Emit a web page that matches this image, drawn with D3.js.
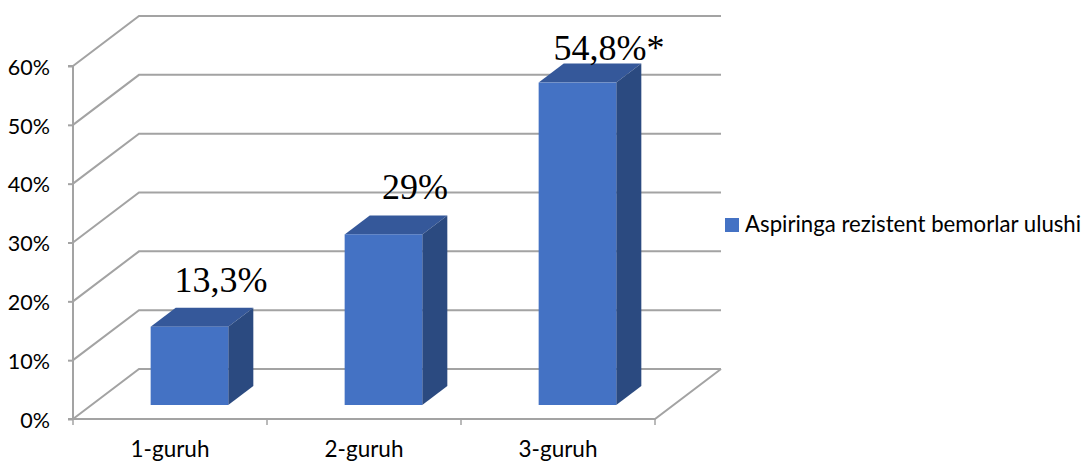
<!DOCTYPE html>
<html>
<head>
<meta charset="utf-8">
<script src="https://cdn.jsdelivr.net/npm/d3@7"></script>
<style>
  html, body { margin: 0; padding: 0; background: #ffffff; }
  svg { display: block; }
</style>
</head>
<body>
<svg id="chart" width="1087" height="462"></svg>
<script>
// Share of aspirin-resistant patients per group
const categories = ["1-guruh", "2-guruh", "3-guruh"];
const values = [0.133, 0.29, 0.548];
const valueLabels = ["13,3%", "29%", "54,8%*"];
const yTicks = [0, 0.1, 0.2, 0.3, 0.4, 0.5, 0.6];
const yTickLabels = ["0%", "10%", "20%", "30%", "40%", "50%", "60%"];
const seriesName = "Aspiringa rezistent bemorlar ulushi";

const svg = d3.select("#chart");

// Front plane scales
const x = d3.scaleBand().domain(categories).range([73, 655]);
const y = d3.scaleLinear().domain([0, 0.6]).range([419, 66]);

// Oblique depth offset of the back wall
const DX = 66, DY = -50;
const proj = (px, v, z) => [px + z * DX, y(v) + z * DY];

const gridColor = "#a3a3a3";
const labelFont = "Lato, 'Open Sans', sans-serif";

// Walls: gridlines run along the side wall then across the back wall
const grid = svg.append("g").attr("fill", "none").attr("stroke", gridColor).attr("stroke-width", 2);
yTicks.forEach(t => {
  const a = proj(x.range()[0], t, 0);
  const b = proj(x.range()[0], t, 1);
  const c = proj(x.range()[1], t, 1);
  grid.append("path").attr("d", d3.line()([a, b, c]));
});

// Floor outline (right edge and front edge)
const floorPts = [
  proj(x.range()[1], 0, 1),
  proj(x.range()[1], 0, 0),
  proj(x.range()[0], 0, 0)
];
grid.append("path").attr("d", d3.line()(floorPts));

// Vertical value axis on the front-left edge
const yAxis = d3.axisLeft(y).tickValues(yTicks).tickSize(5).tickFormat((d, i) => yTickLabels[i]);
const yg = svg.append("g").attr("transform", `translate(${x.range()[0]},0)`).call(yAxis);
yg.select(".domain").attr("stroke", gridColor).attr("stroke-width", 2).attr("d", `M-5,${y(0.6)}H0V${y(0)}H-5`);
yg.selectAll(".tick line").attr("stroke", gridColor).attr("stroke-width", 2);
yg.selectAll(".tick text")
  .attr("x", -23)
  .attr("dy", "0.38em")
  .attr("fill", "#000")
  .style("font-family", labelFont)
  .style("font-size", "21.5px");

// Category axis on the front floor edge
const xAxis = d3.axisBottom(x).tickSize(0).tickSizeOuter(0);
const xg = svg.append("g").attr("transform", `translate(0,${y(0)})`).call(xAxis);
xg.select(".domain").remove();
xg.selectAll(".tick text")
  .attr("y", 38)
  .attr("dy", 0)
  .attr("fill", "#000")
  .style("font-family", labelFont)
  .style("font-size", "22.5px");
// boundary ticks between categories
const bounds = categories.map(c => x(c)).concat([x.range()[1]]);
svg.append("g").selectAll("line").data(bounds).join("line")
  .attr("x1", d => d).attr("x2", d => d)
  .attr("y1", y(0)).attr("y2", y(0) + 6)
  .attr("stroke", gridColor).attr("stroke-width", 1.5);

// 3-D bars
const bw = x.bandwidth();
const zFront = 0.28, zBack = 0.66;
const bars = svg.append("g");
categories.forEach((c, i) => {
  const v = values[i];
  const x0 = x(c) + bw * 0.305;
  const x1 = x0 + bw * 0.4;
  const g = bars.append("g");
  // top face
  g.append("path")
    .attr("d", d3.line()([proj(x0, v, zFront), proj(x1, v, zFront), proj(x1, v, zBack), proj(x0, v, zBack)]) + "Z")
    .attr("fill", "#35589a");
  // side face
  g.append("path")
    .attr("d", d3.line()([proj(x1, 0, zFront), proj(x1, v, zFront), proj(x1, v, zBack), proj(x1, 0, zBack)]) + "Z")
    .attr("fill", "#2b4a80");
  // front face
  const p0 = proj(x0, v, zFront), p1 = proj(x1, 0, zFront);
  g.append("rect")
    .attr("x", p0[0]).attr("y", p0[1])
    .attr("width", p1[0] - p0[0]).attr("height", p1[1] - p0[1])
    .attr("fill", "#4472c4");

  // value label above the bar
  const top = proj(x(c) + bw / 2, v, zBack);
  svg.append("text")
    .attr("x", x(c) + bw / 2 + 51)
    .attr("y", Math.max(top[1] - 16, 60))
    .attr("text-anchor", "middle")
    .style("font-family", "'Liberation Serif', 'Times New Roman', serif")
    .style("font-size", "36px")
    .attr("fill", "#000")
    .text(valueLabels[i]);
});

// Legend
const legend = svg.append("g").attr("transform", "translate(725,218)");
legend.append("rect").attr("width", 14).attr("height", 14).attr("fill", "#4472c4");
legend.append("text")
  .attr("x", 20).attr("y", 14)
  .style("font-family", labelFont)
  .style("font-size", "22.2px")
  .attr("fill", "#000")
  .text(seriesName);
</script>
</body>
</html>
